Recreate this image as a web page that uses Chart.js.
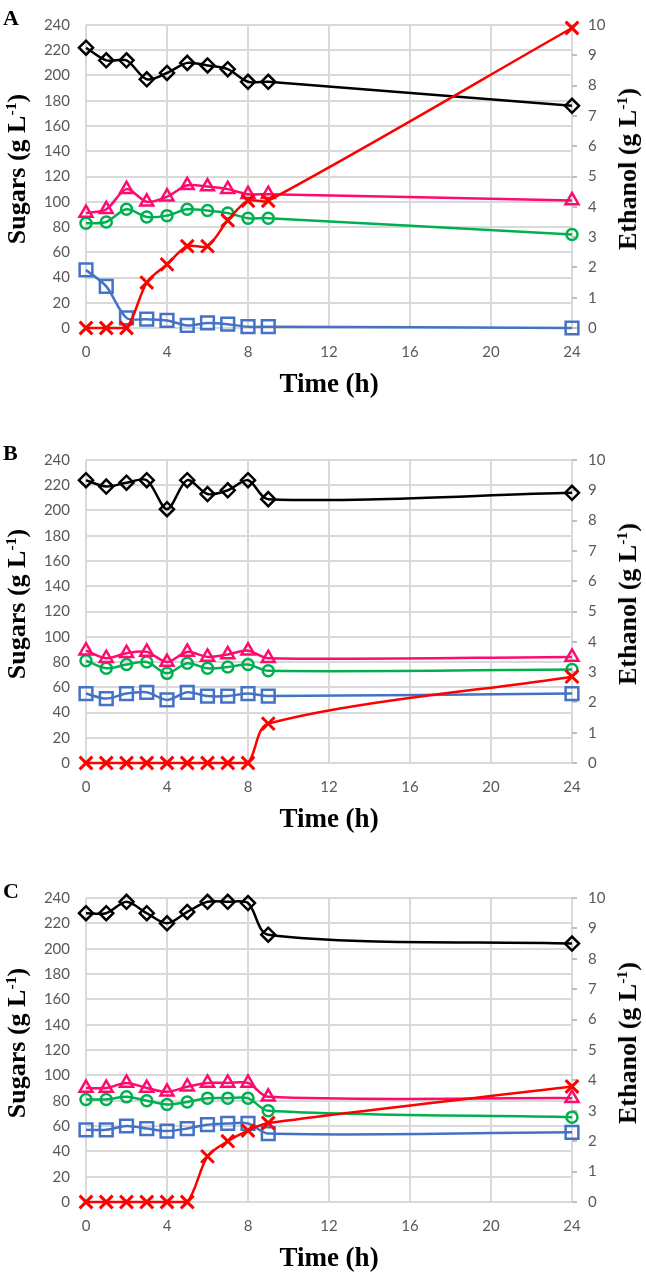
<!DOCTYPE html>
<html><head><meta charset="utf-8">
<script src="https://cdn.jsdelivr.net/npm/chart.js@4.4.1/dist/chart.umd.min.js"></script>
<style>
body{margin:0;background:#fff;width:646px;height:1275px;position:relative;overflow:hidden}
.box{position:absolute;left:0;width:646px}
.lbl{position:absolute;font-family:"Liberation Serif","Times New Roman",serif;font-weight:bold;color:#000;white-space:nowrap;line-height:1}
.ttl{font-size:27px;transform:translate(-50%,-50%)}
.rot{font-size:26px;transform:translate(-50%,-50%) rotate(-90deg)}
.let{font-size:22px}
sup{font-size:60%;line-height:0;vertical-align:0.55em}
</style></head><body>
<script>
const time = [0,1,2,3,4,5,6,7,8,9,24];

// panel A
const aDiamond  = [222,212,212,197,202,210,208,205,195,195,176];
const aTriangle = [91,94,110,100,104,113,112,110,106,106,101];
const aCircle   = [83,84,94,88,89,94,93,91,87,87,74];
const aSquare   = [46,33,8,7,6,2,4,3,1,1,0];
const aEthanol  = [0,0,0,1.5,2.1,2.7,2.7,3.55,4.2,4.2,9.9];
// panel B
const bDiamond  = [224,219,222,224,201,224,213,216,224,209,214];
const bTriangle = [89,83,87,88,80,88,84,86,89,83,84];
const bCircle   = [81,75,78,80,71,79,75,76,78,73,74];
const bSquare   = [55,51,55,56,50,56,53,53,55,53,55];
const bEthanol  = [0,0,0,0,0,0,0,0,0,1.3,2.85];
// panel C
const cDiamond  = [228,228,237,228,220,229,237,237,236,211,204];
const cTriangle = [90,90,94,90,87,91,94,94,94,83,82];
const cCircle   = [81,81,83,80,77,79,82,82,82,72,67];
const cSquare   = [57,57,60,58,56,58,61,62,62,54,55];
const cEthanol  = [0,0,0,0,0,0,1.5,2.0,2.35,2.6,3.8];

const sugarMax = 240, sugarStep = 20;
const ethMax = 10, ethStep = 1;
const timeMax = 24, timeStep = 4;

const tickFont = {family:'Lato', size:15};
const tickColor = '#595959';
const gridColor = '#d9d9d9';

let ds = function(label, vals, color, style, r, axis, bw){
    return {
        label: label,
        data: time.map((t,i)=>({x:t, y:vals[i]})),
        borderColor: color,
        backgroundColor: color,
        borderWidth: 2.5,
        pointStyle: style,
        pointRadius: r,
        pointBorderColor: color,
        pointBackgroundColor: 'rgba(0,0,0,0)',
        pointBorderWidth: bw||2.5,
        tension: 0.3,
        clip: false,
        yAxisID: axis
    }
}

let addLbl = function(html, cls, x, y){
    let d = document.createElement('div')
    d.className = 'lbl ' + cls
    d.innerHTML = html
    d.style.left = x + 'px'
    d.style.top = y + 'px'
    document.body.appendChild(d)
}

let mk = function(letter, plotTop, plotBottom, sets){
    let padTop = 10, xh = 44
    let h = (plotBottom - plotTop) + padTop + xh
    let box = document.createElement('div')
    box.className = 'box'
    box.style.top = (plotTop - padTop) + 'px'
    box.style.height = h + 'px'
    let cv = document.createElement('canvas')
    cv.width = 646; cv.height = h
    box.appendChild(cv)
    document.body.appendChild(box)

    new Chart(cv.getContext('2d'), {
        type: 'line',
        data: {datasets: [
            ds('Ethanol', sets[4], '#ff0000', 'crossRot', 9, 'y2', 3),
            ds('Diamond', sets[0], '#000000', 'rectRot', 7, 'y'),
            ds('Triangle', sets[1], '#ff0a6e', 'triangle', 7.5, 'y'),
            ds('Circle', sets[2], '#00b050', 'circle', 5.5, 'y'),
            ds('Square', sets[3], '#4472c4', 'rect', 9, 'y')
        ]},
        options: {
            responsive: false,
            animation: false,
            events: [],
            layout: {padding: {top: padTop, left: 0, right: 0, bottom: 0}, autoPadding: false},
            plugins: {legend: {display: false}, tooltip: {enabled: false}},
            scales: {
                x: {
                    type: 'linear', min: 0, max: timeMax,
                    ticks: {stepSize: timeStep, padding: 15, color: tickColor, font: tickFont, maxRotation: 0},
                    grid: {color: gridColor, lineWidth: 2, drawTicks: false},
                    border: {display: false},
                    afterFit: s => { s.height = xh }
                },
                y: {
                    position: 'left', min: 0, max: sugarMax,
                    ticks: {stepSize: sugarStep, padding: 16, color: tickColor, font: tickFont},
                    grid: {color: gridColor, lineWidth: 2, drawTicks: false},
                    border: {display: false},
                    afterFit: s => { s.width = 86 }
                },
                y2: {
                    position: 'right', min: 0, max: ethMax,
                    ticks: {stepSize: ethStep, padding: 11, color: tickColor, font: tickFont},
                    grid: {drawOnChartArea: false, color: '#bfbfbf', lineWidth: 2, tickLength: 5},
                    border: {display: false},
                    afterFit: s => { s.width = 74 }
                }
            }
        }
    })

    let mid = (plotTop + plotBottom) / 2
    addLbl(letter, 'let', 3, plotTop - 3)
    addLbl('Time (h)', 'ttl', 329, plotBottom + 55)
    addLbl('Sugars (g L<sup>-1</sup>)', 'rot', 17, mid)
    addLbl('Ethanol (g L<sup>-1</sup>)', 'rot', 628, mid)
}

mk('A', 10, 328, [aDiamond, aTriangle, aCircle, aSquare, aEthanol])
mk('B', 445, 763, [bDiamond, bTriangle, bCircle, bSquare, bEthanol])
mk('C', 883, 1202, [cDiamond, cTriangle, cCircle, cSquare, cEthanol])
</script>
</body></html>
